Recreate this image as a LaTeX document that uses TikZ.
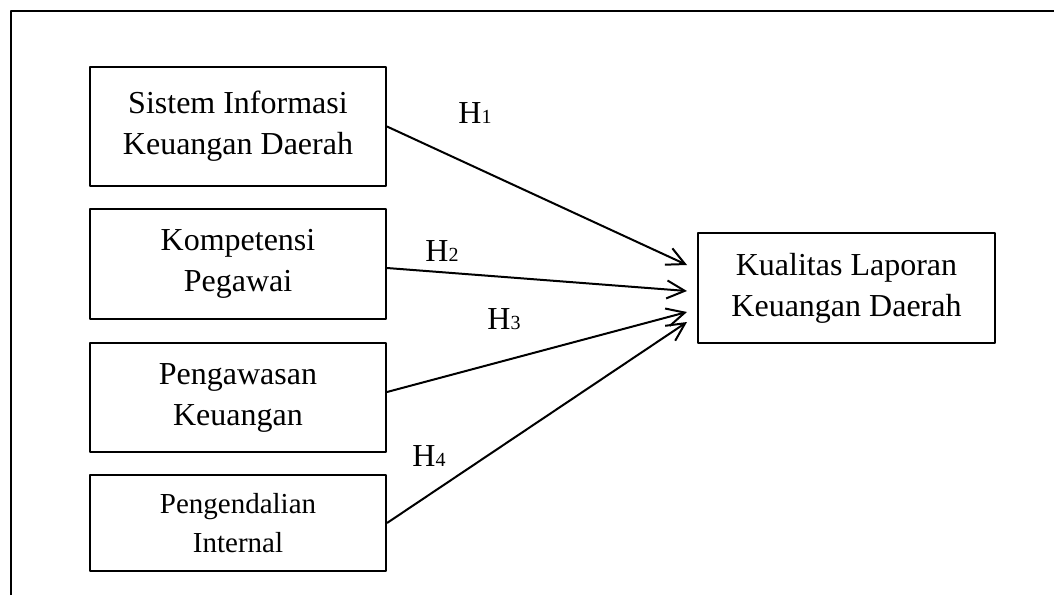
\documentclass[tikz,border=0pt]{standalone}
\usepackage{fontspec}
\setmainfont{Liberation Serif}
\usetikzlibrary{arrows.meta}
\tikzset{
  kotak/.style={draw, line width=1pt, align=center, inner sep=0pt, minimum width=148pt},
  panah/.style={line width=1pt, -{Straight Barb[length=9pt,width=9pt,line width=1pt]}},
  hip/.style={anchor=base west, inner sep=0pt, font=\fontsize{16}{16}\selectfont}
}
\newcommand{\hsub}[1]{H{\fontsize{10}{10}\selectfont #1}}
\begin{document}
\begin{tikzpicture}[x=0.5pt, y=-0.5pt, line join=round, font=\fontsize{16}{20.5}\selectfont]
\useasboundingbox (0,0) rectangle (1054,595);
\draw[line width=1pt] (11,595)--(11,11)--(1054,11);
% variabel bebas
\node[kotak, minimum height=59.5pt] (sikd) at (238,126.5) {Sistem Informasi\\Keuangan Daerah};
\node[kotak, minimum height=55pt] (kp) at (238,264) {Kompetensi\\Pegawai};
\node[kotak, minimum height=54.5pt] (pk) at (238,397.5) {Pengawasan\\Keuangan};
\node[kotak, minimum height=48pt, font=\fontsize{14.5}{19.5}\selectfont] (pi) at (238,523) {Pengendalian\\Internal};
% variabel terikat
\node[kotak, minimum width=148.5pt, minimum height=55pt] (klkd) at (846.5,288) {Kualitas Laporan\\Keuangan Daerah};
\coordinate (t1) at (687,265);
\coordinate (t2) at (687,291);
\coordinate (t3) at (687,312);
\coordinate (t4) at (687,322);
\draw[panah] (sikd.east)--(t1);
\draw[panah] ([yshift=-2pt]kp.east)--(t2);
\draw[panah] ([yshift=2.75pt]pk.east)--(t3);
\draw[panah] (pi.east)--(t4);
\node[hip] (h1) at (458,123) {\hsub{1}};
\node[hip] (h2) at (425,261) {\hsub{2}};
\node[hip] (h3) at (487,329) {\hsub{3}};
\node[hip] (h4) at (412,466) {\hsub{4}};
\end{tikzpicture}
\end{document}
